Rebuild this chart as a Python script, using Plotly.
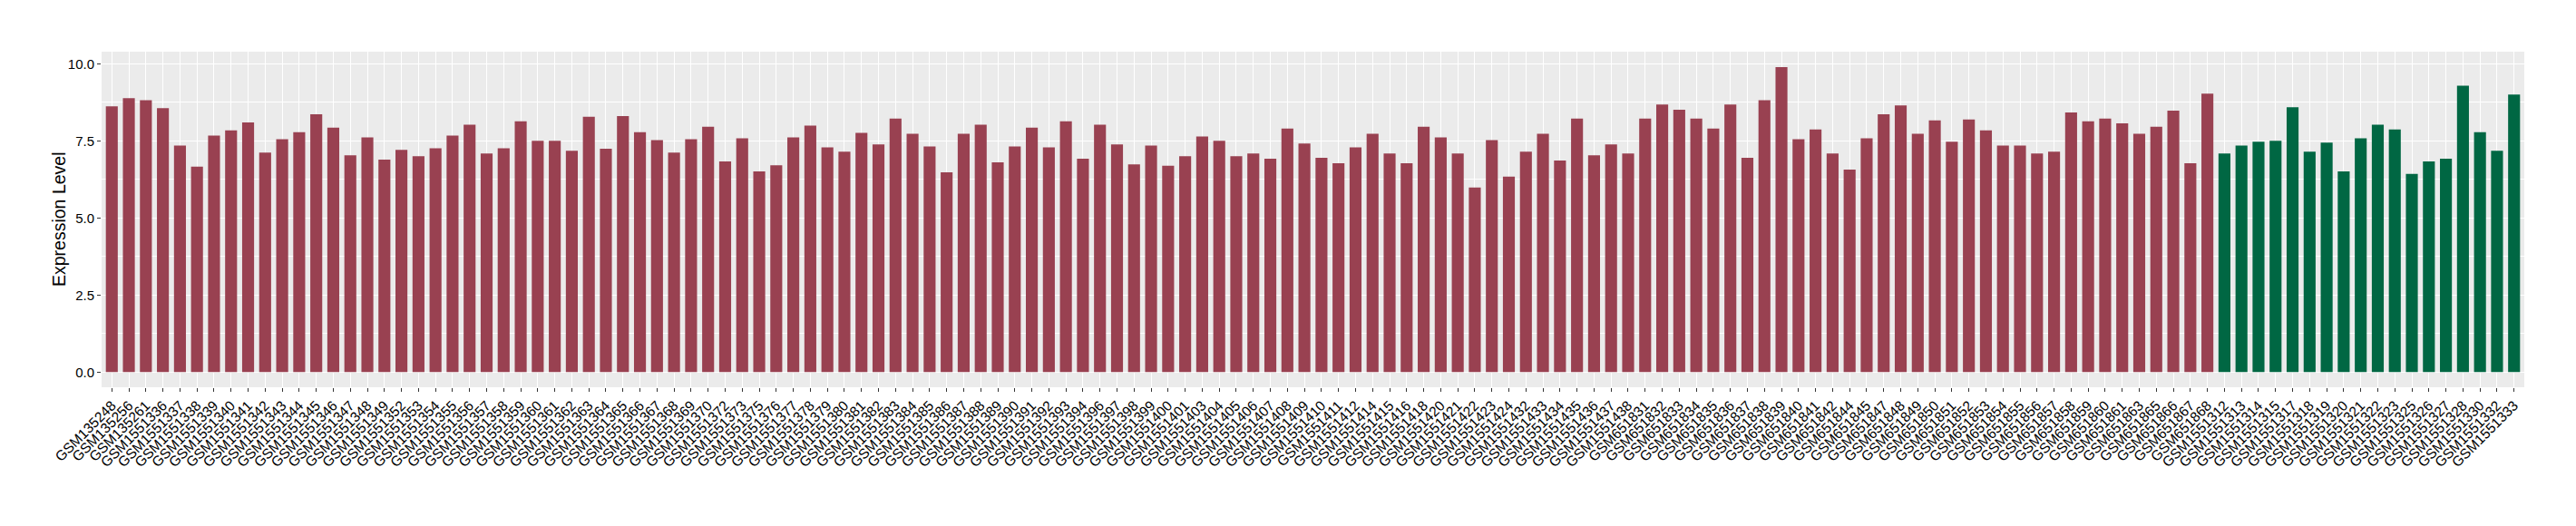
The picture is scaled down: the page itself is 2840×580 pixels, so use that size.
import plotly.graph_objects as go

# ---- data ----
labels_red = [
    "GSM135248", "GSM135256", "GSM135261",
    "GSM1551336", "GSM1551337", "GSM1551338", "GSM1551339", "GSM1551340", "GSM1551341", "GSM1551342",
    "GSM1551343", "GSM1551344", "GSM1551345", "GSM1551346", "GSM1551347", "GSM1551348", "GSM1551349",
    "GSM1551352", "GSM1551353", "GSM1551354", "GSM1551355", "GSM1551356", "GSM1551357", "GSM1551358",
    "GSM1551359", "GSM1551360", "GSM1551361", "GSM1551362", "GSM1551363", "GSM1551364", "GSM1551365",
    "GSM1551366", "GSM1551367", "GSM1551368", "GSM1551369", "GSM1551370", "GSM1551372", "GSM1551373",
    "GSM1551375", "GSM1551376", "GSM1551377", "GSM1551378", "GSM1551379", "GSM1551380", "GSM1551381",
    "GSM1551382", "GSM1551383", "GSM1551384", "GSM1551385", "GSM1551386", "GSM1551387", "GSM1551388",
    "GSM1551389", "GSM1551390", "GSM1551391", "GSM1551392", "GSM1551393", "GSM1551394", "GSM1551396",
    "GSM1551397", "GSM1551398", "GSM1551399", "GSM1551400", "GSM1551401", "GSM1551403", "GSM1551404",
    "GSM1551405", "GSM1551406", "GSM1551407", "GSM1551408", "GSM1551409", "GSM1551410", "GSM1551411",
    "GSM1551412", "GSM1551414", "GSM1551415", "GSM1551416", "GSM1551418", "GSM1551420", "GSM1551421",
    "GSM1551422", "GSM1551423", "GSM1551424", "GSM1551432", "GSM1551433", "GSM1551434", "GSM1551435",
    "GSM1551436", "GSM1551437", "GSM1551438",
    "GSM651831", "GSM651832", "GSM651833", "GSM651834", "GSM651835", "GSM651836", "GSM651837",
    "GSM651838", "GSM651839", "GSM651840", "GSM651841", "GSM651842", "GSM651844", "GSM651845",
    "GSM651847", "GSM651848", "GSM651849", "GSM651850", "GSM651851", "GSM651852", "GSM651853",
    "GSM651854", "GSM651855", "GSM651856", "GSM651857", "GSM651858", "GSM651859", "GSM651860",
    "GSM651861", "GSM651863", "GSM651865", "GSM651866", "GSM651867", "GSM651868",
]
values_red = [
    8.62, 8.88, 8.82, 8.56, 7.35, 6.66, 7.67, 7.84, 8.10, 7.12,
    7.55, 7.78, 8.36, 7.93, 7.03, 7.61, 6.89, 7.21, 7.00, 7.26,
    7.67, 8.02, 7.09, 7.26, 8.13, 7.50, 7.50, 7.18, 8.28, 7.24,
    8.30, 7.78, 7.52, 7.12, 7.55, 7.96, 6.83, 7.58, 6.51, 6.71,
    7.61, 7.99, 7.29, 7.15, 7.76, 7.38, 8.22, 7.73, 7.32, 6.48,
    7.73, 8.02, 6.80, 7.32, 7.93, 7.29, 8.13, 6.92, 8.02, 7.38,
    6.74, 7.35, 6.69, 7.00, 7.64, 7.50, 7.00, 7.09, 6.92, 7.90,
    7.41, 6.95, 6.77, 7.29, 7.73, 7.09, 6.77, 7.96, 7.61, 7.09,
    5.99, 7.52, 6.34, 7.15, 7.73, 6.86, 8.22, 7.03, 7.38, 7.09,
    8.22, 8.68, 8.51, 8.22, 7.90, 8.68, 6.95, 8.82, 9.89, 7.55,
    7.87, 7.09, 6.57, 7.58, 8.36, 8.65, 7.73, 8.16, 7.47, 8.19,
    7.84, 7.35, 7.35, 7.09, 7.15, 8.42, 8.13, 8.22, 8.07, 7.73,
    7.96, 8.48, 6.77, 9.03,
]
labels_green = [
    "GSM1551312", "GSM1551313", "GSM1551314", "GSM1551315", "GSM1551317", "GSM1551318",
    "GSM1551319", "GSM1551320", "GSM1551321", "GSM1551322", "GSM1551323", "GSM1551325",
    "GSM1551326", "GSM1551327", "GSM1551328", "GSM1551330", "GSM1551332", "GSM1551333",
]
values_green = [
    7.09, 7.35, 7.47, 7.50, 8.59, 7.15, 7.44, 6.51, 7.58,
    8.02, 7.87, 6.43, 6.83, 6.92, 9.29, 7.78, 7.18, 9.00,
]
y_ticks = [0.0, 2.5, 5.0, 7.5, 10.0]
y_title = "Expression Level"

RED = "#994151"
GREEN = "#006743"
FONT = "Liberation Sans, Arial, Helvetica, sans-serif"

all_labels = labels_red + labels_green

fig = go.Figure()
fig.add_trace(go.Bar(x=labels_red, y=values_red, marker=dict(color=RED, line=dict(width=0)),
                     showlegend=False))
fig.add_trace(go.Bar(x=labels_green, y=values_green, marker=dict(color=GREEN, line=dict(width=0)),
                     showlegend=False))

# page body has an 8px default margin; sizes compensate for it
fig.update_layout(
    width=2824, height=564, autosize=False,
    margin=dict(l=104, r=49, t=49, b=145, autoexpand=False),
    paper_bgcolor="white", plot_bgcolor="#EBEBEB",
    bargap=0.3, barmode="overlay",
    font=dict(family=FONT, color="black"),
)
fig.add_annotation(
    text=y_title, xref="paper", yref="paper", x=0, y=0.5, xshift=-47,
    xanchor="center", yanchor="middle", textangle=-90, showarrow=False,
    font=dict(size=19.5, color="black", family=FONT),
)
fig.update_xaxes(
    type="category", categoryorder="array", categoryarray=all_labels,
    range=[-0.6, len(all_labels) - 0.4],
    tickmode="linear", tick0=0, dtick=1,
    showgrid=True, gridcolor="white", gridwidth=1.3,
    ticks="outside", ticklen=4, tickwidth=1, tickcolor="#333333",
    tickangle=-45, tickfont=dict(size=15.5, color="black", family=FONT),
    showline=False, zeroline=False, automargin=False,
)
fig.update_yaxes(
    range=[-0.49, 10.39],
    tickvals=y_ticks, ticktext=[f"{v:.1f}" for v in y_ticks],
    showgrid=True, gridcolor="white", gridwidth=1.3,
    minor=dict(tickvals=[1.25, 3.75, 6.25, 8.75], showgrid=True, gridcolor="white",
               gridwidth=0.7, ticks=""),
    ticks="outside", ticklen=4, tickwidth=1, tickcolor="#333333",
    tickfont=dict(size=15, color="black", family=FONT),
    showline=False, zeroline=False, automargin=False,
)

fig.write_html("out.html")
